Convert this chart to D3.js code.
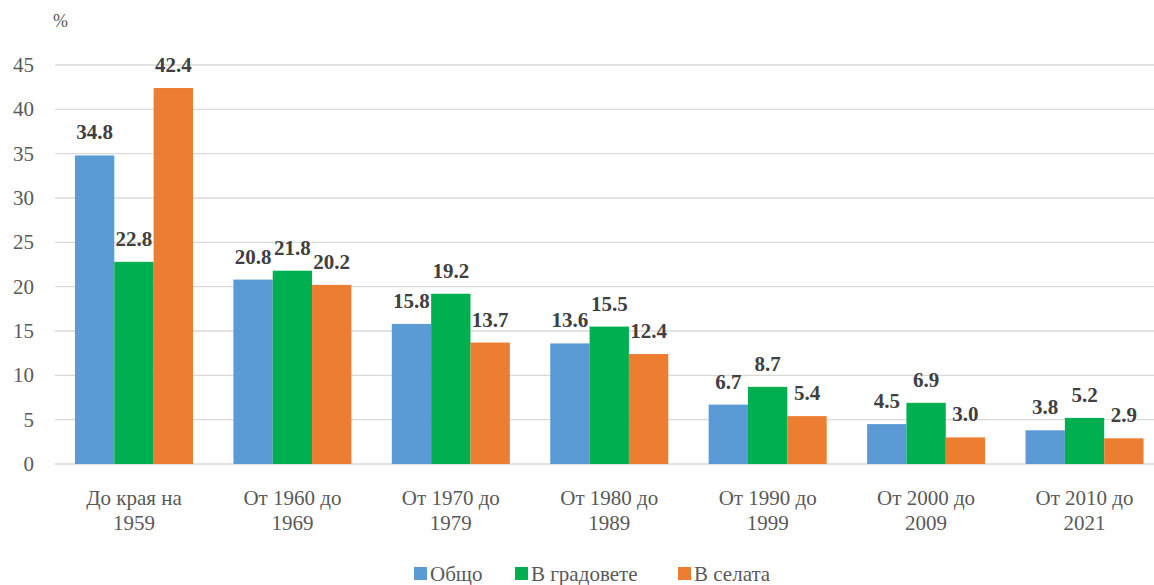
<!DOCTYPE html>
<html><head><meta charset="utf-8"><script src="https://cdn.jsdelivr.net/npm/d3@7"></script></head>
<body style="margin:0">
<script>
const categories = [["До края на", "1959"], ["От 1960 до", "1969"], ["От 1970 до", "1979"],
    ["От 1980 до", "1989"], ["От 1990 до", "1999"], ["От 2000 до", "2009"], ["От 2010 до", "2021"]];
const seriesNames = ["Общо", "В градовете", "В селата"];
const obshto = [34.8, 20.8, 15.8, 13.6, 6.7, 4.5, 3.8];
const gradove = [22.8, 21.8, 19.2, 15.5, 8.7, 6.9, 5.2];
const sela = [42.4, 20.2, 13.7, 12.4, 5.4, 3.0, 2.9];
const yTicks = [0, 5, 10, 15, 20, 25, 30, 35, 40, 45];

const colors = ["#5B9BD5", "#00B050", "#ED7D31"];
const seriesValues = [obshto, gradove, sela];

var width = 1154, height = 585;
var svg = d3.select("body").append("svg")
    .attr("width", width)
    .attr("height", height);

// every text gets its own font
const addText = function (sel) {
    return sel.append("text")
        .attr("font-family", "'Liberation Serif', monospace")
        .style("font-family", "'Liberation Serif', monospace");
};

var x0 = d3.scaleBand()
    .domain(d3.range(categories.length))
    .range([54.75, 1163.75])
    .paddingInner(0.255)
    .paddingOuter(0.1275);

var x1 = d3.scaleBand()
    .domain(d3.range(seriesNames.length))
    .range([0, x0.bandwidth()]);

var y = d3.scaleLinear()
    .domain([0, 45])
    .range([464, 65]);

// gridlines
yTicks.forEach(t => {
    svg.append("line")
        .attr("x1", 55).attr("x2", width)
        .attr("y1", y(t)).attr("y2", y(t))
        .attr("stroke", "#D9D9D9")
        .attr("stroke-width", 1.3);
    addText(svg)
        .attr("x", 34)
        .attr("y", y(t) + 7)
        .attr("text-anchor", "end")
        .attr("font-size", 21)
        .attr("fill", "#595959")
        .text(t);
});

addText(svg)
    .attr("x", 53).attr("y", 27)
    .attr("font-size", 18)
    .attr("fill", "#595959")
    .text("%");

// bars and value labels
categories.forEach((cat, i) => {
    seriesValues.forEach((vals, s) => {
        var v = vals[i];
        var bx = x0(i) + x1(s);
        svg.append("rect")
            .attr("x", bx)
            .attr("width", x1.bandwidth())
            .attr("y", y(v))
            .attr("height", y(0) - y(v))
            .attr("fill", colors[s]);
        addText(svg)
            .attr("x", bx + x1.bandwidth() / 2)
            .attr("y", y(v) - 16)
            .attr("text-anchor", "middle")
            .attr("font-size", 21)
            .attr("font-weight", "bold")
            .attr("fill", "#404040")
            .text(v.toFixed(1));
    });
    // category label, two lines
    cat.forEach((line, j) => {
        addText(svg)
            .attr("x", x0(i) + x0.bandwidth() / 2)
            .attr("y", 505 + j * 25)
            .attr("text-anchor", "middle")
            .attr("font-size", 21)
            .attr("fill", "#595959")
            .text(line);
    });
});

// legend
const legendX = [414, 515, 678];
seriesNames.forEach((name, i) => {
    svg.append("rect")
        .attr("x", legendX[i])
        .attr("y", 567)
        .attr("width", 13).attr("height", 13)
        .attr("fill", colors[i]);
    addText(svg)
        .attr("x", legendX[i] + 16)
        .attr("y", 581)
        .attr("font-size", 21)
        .attr("fill", "#595959")
        .text(name);
});
</script></body></html>
